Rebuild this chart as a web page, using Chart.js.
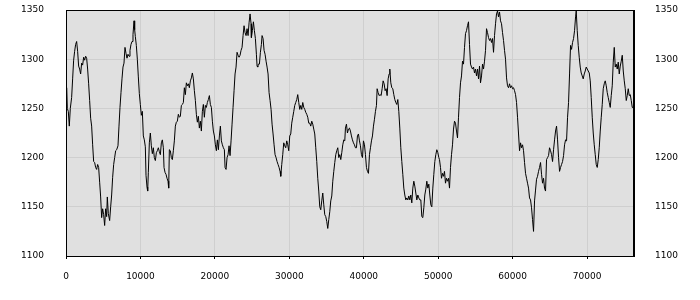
<!DOCTYPE html>
<html>
<head>
<meta charset="utf-8">
<script src="https://cdn.jsdelivr.net/npm/chart.js@4.4.1/dist/chart.umd.min.js"></script>
<style>
  html, body { margin: 0; padding: 0; background: #fff; }
  #chart { display: block; }
</style>
</head>
<body>
<canvas id="chart" width="700" height="300"></canvas>
<script>
// [x, value] readings, left to right
const series = [
  [0,1252],[85,1271],[175,1250],[309,1247],[443,1232],[578,1250],[757,1261],[891,1280],[1026,1299],[1160,1308],
  [1295,1315],[1429,1318],[1563,1308],[1698,1293],[1832,1290],[1967,1285],[2101,1296],[2235,1294],[2370,1302],[2504,1299],
  [2639,1303],[2773,1301],[2907,1290],[3042,1275],[3176,1258],[3311,1240],[3445,1232],[3579,1213],[3714,1196],[3848,1195],
  [3983,1190],[4117,1188],[4251,1193],[4386,1190],[4520,1175],[4654,1160],[4789,1139],[4923,1148],[5058,1142],[5192,1131],
  [5327,1148],[5461,1140],[5551,1160],[5685,1143],[5864,1136],[5999,1150],[6133,1162],[6267,1180],[6402,1193],[6536,1200],
  [6671,1207],[6805,1208],[6984,1212],[7119,1232],[7253,1251],[7387,1266],[7522,1280],[7656,1292],[7791,1296],[7925,1312],
  [8059,1306],[8194,1301],[8328,1305],[8463,1303],[8597,1309],[8731,1315],[8866,1318],[9000,1325],[9135,1339],[9224,1330],
  [9314,1323],[9448,1314],[9583,1300],[9717,1282],[9851,1265],[9986,1254],[10120,1243],[10255,1247],[10389,1222],[10523,1218],
  [10658,1211],[10747,1182],[10882,1170],[10971,1166],[11061,1185],[11195,1215],[11330,1225],[11464,1212],[11599,1204],[11733,1210],
  [11867,1200],[12002,1197],[12136,1205],
  [12271,1207],[12405,1210],[12540,1206],[12674,1203],[12809,1215],[12943,1218],[13077,1210],[13167,1190],[13301,1185],[13436,1183],
  [13570,1179],[13705,1176],[13794,1169],[13884,1208],[14018,1207],[14153,1200],[14287,1198],[14421,1207],[14556,1217],[14690,1232],
  [14825,1236],[14959,1237],[15093,1244],[15228,1241],[15362,1242],[15497,1253],[15631,1254],[15765,1256],[15900,1271],[16034,1264],
  [16169,1276],[16303,1273],[16437,1275],[16572,1271],[16706,1278],[16841,1281],[16975,1286],[17109,1280],[17244,1268],[17378,1258],
  [17513,1244],[17647,1236],[17781,1242],[17916,1230],[18050,1237],[18185,1227],[18319,1247],[18453,1254],[18588,1241],[18722,1253],
  [18857,1251],[18991,1256],[19125,1259],[19260,1263],[19394,1254],[19529,1251],[19663,1237],[19797,1227],[19932,1222],[20066,1213],
  [20201,1207],[20335,1218],[20469,1208],[20604,1222],[20738,1232],[20873,1217],[21007,1213],[21141,1210],[21276,1208],[21365,1190],
  [21500,1188],[21634,1200],[21769,1203],[21903,1212],[22037,1202],[22172,1217],[22306,1234],[22441,1251],[22575,1268],[22709,1285],
  [22844,1292],[22978,1307],[23113,1304],[23247,1302],[23381,1304],[23516,1309],[23650,1312],[23785,1324],[23919,1334],[24053,1327],
  [24188,1324],[24322,1331],[24457,1324],[24591,1337],[24725,1346],[24860,1336],
  [24904,1322],[25038,1329],[25173,1338],[25307,1329],[25442,1321],[25576,1305],[25666,1293],[25755,1292],[25845,1295],[25979,1295],
  [26114,1307],[26248,1315],[26338,1324],[26472,1321],[26606,1309],[26741,1305],[26875,1298],[27010,1292],[27144,1285],[27278,1266],
  [27413,1258],[27547,1249],[27682,1234],[27816,1224],[27950,1213],[28085,1203],[28219,1200],[28354,1196],[28488,1193],[28622,1190],
  [28757,1186],[28846,1181],[28981,1193],[29115,1203],[29250,1215],[29384,1212],[29518,1210],[29653,1217],[29787,1213],[29922,1207],
  [30056,1222],[30190,1224],[30325,1235],[30459,1241],[30594,1247],[30728,1253],[30862,1256],[30997,1259],[31131,1264],[31266,1256],
  [31400,1249],[31534,1253],[31669,1249],[31803,1256],[31938,1251],[32072,1249],[32206,1246],[32341,1244],[32475,1241],[32610,1235],
  [32744,1235],[32878,1232],[33013,1237],[33147,1234],[33282,1229],[33416,1224],[33550,1210],[33685,1196],[33819,1179],[33954,1166],
  [34088,1150],[34222,1147],[34357,1156],[34491,1164],[34626,1152],[34760,1142],[34894,1140],[35029,1135],[35163,1128],[35298,1137],
  [35432,1145],[35566,1156],[35701,1161],[35835,1176],[35970,1186],[36104,1195],[36238,1203],[36373,1207],[36507,1210],[36642,1200],
  [36776,1203],[36910,1198],[37045,1205],[37179,1213],[37314,1218],[37448,1217],
  [37538,1230],[37672,1234],[37807,1225],[37941,1229],[38076,1230],[38210,1227],[38344,1222],[38479,1218],[38613,1215],[38748,1213],
  [38882,1210],[39016,1210],[39151,1222],[39285,1224],[39420,1217],[39554,1212],[39688,1203],[39823,1200],[39957,1217],[40092,1213],
  [40226,1203],[40360,1190],[40495,1186],[40629,1184],[40764,1203],[40898,1210],[41032,1217],[41167,1222],[41301,1232],[41436,1239],
  [41570,1247],[41704,1253],[41794,1270],[41928,1266],[42063,1263],[42197,1264],[42332,1263],[42466,1270],[42600,1278],[42735,1275],
  [42869,1268],[43004,1270],[43138,1263],[43272,1280],[43407,1285],[43496,1290],[43631,1276],[43765,1271],[43900,1270],[44034,1264],
  [44168,1259],[44303,1256],[44437,1254],[44572,1259],[44706,1247],[44840,1230],[44975,1210],[45109,1196],[45244,1183],[45378,1169],
  [45512,1162],[45647,1157],[45781,1159],[45916,1157],[46050,1161],[46184,1157],[46319,1162],[46453,1154],[46588,1169],[46722,1176],
  [46856,1171],[46991,1164],[47125,1157],[47260,1162],[47394,1159],[47528,1157],[47663,1157],[47797,1140],[47932,1139],[48066,1149],
  [48200,1162],[48335,1168],[48469,1176],[48604,1169],[48738,1173],[48872,1162],[49007,1152],[49141,1150],[49276,1169],[49410,1183],
  [49544,1196],[49679,1203],[49813,1208],[49948,1205],[50082,1200],
  [50172,1198],[50306,1190],[50441,1179],[50575,1184],[50710,1181],[50844,1186],[50978,1174],[51113,1179],[51247,1176],[51382,1179],
  [51516,1169],[51650,1190],[51785,1203],[51919,1213],[52054,1229],[52188,1237],[52322,1235],[52457,1227],[52591,1220],[52726,1241],
  [52860,1261],[52994,1276],[53129,1283],[53263,1298],[53398,1295],[53532,1312],[53666,1326],[53801,1329],[53935,1334],[54070,1338],
  [54204,1315],[54338,1295],[54473,1292],[54607,1290],[54742,1292],[54876,1286],[55010,1290],[55145,1283],[55279,1290],[55414,1280],
  [55548,1293],[55682,1276],[55817,1283],[55951,1295],[56086,1290],[56220,1298],[56354,1309],[56489,1331],[56623,1327],[56758,1322],
  [56892,1319],[57026,1321],[57161,1317],[57295,1321],[57430,1307],[57564,1324],[57698,1336],[57833,1346],[57967,1349],[58102,1343],
  [58236,1348],[58370,1339],[58505,1336],[58639,1327],[58774,1319],[58908,1309],[59042,1300],[59177,1281],[59311,1273],[59446,1271],
  [59580,1275],[59714,1271],[59849,1273],[59983,1270],[60118,1271],[60252,1268],[60386,1264],[60521,1256],[60655,1241],[60790,1224],
  [60924,1207],[61058,1215],[61193,1210],[61327,1213],[61462,1207],[61596,1195],[61730,1184],[61865,1179],[61999,1174],[62134,1169],
  [62268,1159],[62402,1157],[62537,1149],[62671,1137],
  [62805,1125],[62939,1156],[63074,1167],[63208,1178],[63343,1181],[63477,1186],[63611,1190],[63746,1195],[63880,1183],[64015,1174],
  [64149,1179],[64283,1169],[64418,1166],[64552,1198],[64687,1200],[64821,1202],[64955,1210],[65090,1207],[65224,1203],[65359,1196],
  [65493,1208],[65627,1218],[65762,1227],[65896,1232],[66031,1218],[66165,1200],[66299,1186],[66434,1190],[66568,1193],[66703,1196],
  [66837,1202],[66971,1213],[67106,1218],[67240,1217],[67375,1241],[67509,1256],[67643,1285],[67778,1314],[67912,1310],[68047,1317],
  [68181,1321],[68315,1329],[68450,1343],[68539,1349],[68674,1329],[68808,1314],[68943,1302],[69077,1292],[69211,1286],[69346,1283],
  [69480,1280],[69615,1285],[69749,1288],[69883,1292],[70018,1290],[70152,1288],[70287,1286],[70421,1278],[70555,1261],[70690,1241],
  [70824,1225],[70959,1213],[71093,1203],[71227,1193],[71362,1190],[71496,1198],[71631,1210],[71765,1227],[71899,1241],[72034,1254],
  [72168,1270],[72303,1275],[72437,1278],[72571,1273],[72706,1266],[72840,1261],[72975,1256],[73109,1251],[73243,1263],[73378,1273],
  [73512,1297],[73647,1312],[73781,1292],[73915,1295],[74050,1290],[74184,1297],[74319,1285],[74453,1293],[74587,1298],[74722,1304],
  [74856,1288],[74991,1278],[75125,1270],[75259,1258],[75394,1263],[75528,1270],[75663,1263],[75797,1264],[75931,1258],[76066,1251],
  [76200,1251],[76300,1250]
];

const xMin = 0;
const xMax = 76300;
const xTickValues = [0, 10000, 20000, 30000, 40000, 50000, 60000, 70000];
const yMin = 1100;
const yMax = 1350;
const yTickValues = [1100, 1150, 1200, 1250, 1300, 1350];

const FONT = { family: "'DejaVu Sans', sans-serif", size: 9 };
const GRID = "#cfcfcf";
const PLOT_BG = "#e0e0e0";

// gray plot area + black frame round it
const plotFrame = {
  id: "plotFrame",
  beforeDraw(chart) {
    const { ctx, chartArea: a } = chart;
    ctx.save();
    ctx.fillStyle = PLOT_BG;
    ctx.fillRect(a.left, a.top, a.right - a.left, a.bottom - a.top);
    ctx.restore();
  },
  afterDraw(chart) {
    const { ctx, chartArea: a } = chart;
    ctx.save();
    ctx.strokeStyle = "#000";
    ctx.lineWidth = 1;
    ctx.strokeRect(Math.round(a.left) + 0.5, Math.round(a.top) + 0.5,
      Math.round(a.right - a.left) - 1, Math.round(a.bottom - a.top));
    ctx.restore();
  }
};

const fixedTicks = (values) => (s) => { s.ticks = values.map(v => ({ value: v })); };

// tick padding also pads the top of a vertical scale, so the gap to the
// labels comes from an invisible tick mark instead
const yAxis = (position, gap, onChart) => ({
  position,
  min: yMin, max: yMax,
  afterBuildTicks: fixedTicks(yTickValues),
  afterFit: s => { s.width = 66; },
  grid: {
    color: GRID, drawOnChartArea: onChart,
    drawTicks: true, tickLength: gap, tickColor: "rgba(0,0,0,0)"
  },
  border: { color: "#000" },
  ticks: { color: "#000", font: FONT, padding: 0, callback: v => String(v) }
});

new Chart(document.getElementById("chart"), {
  type: "line",
  data: {
    datasets: [{
      data: series.map(([x, y]) => ({ x, y })),
      borderColor: "#000",
      borderWidth: 1,
      pointRadius: 0,
      tension: 0,
      fill: false
    }]
  },
  options: {
    responsive: false,
    animation: false,
    events: [],
    layout: { padding: { top: 10, left: 0, right: 0, bottom: 0 } },
    plugins: { legend: { display: false }, tooltip: { enabled: false } },
    scales: {
      x: {
        type: "linear",
        min: xMin, max: xMax,
        afterBuildTicks: fixedTicks(xTickValues),
        afterFit: s => { s.height = 44; },
        grid: { color: GRID, drawTicks: true, tickLength: 3, tickColor: "#000" },
        border: { color: "#000" },
        ticks: {
          color: "#000", font: FONT, padding: 12, maxRotation: 0,
          autoSkip: false, callback: v => String(v)
        }
      },
      y: yAxis("left", 22, true),
      y2: yAxis("right", 21, false)
    }
  },
  plugins: [plotFrame]
});
</script>
</body>
</html>
